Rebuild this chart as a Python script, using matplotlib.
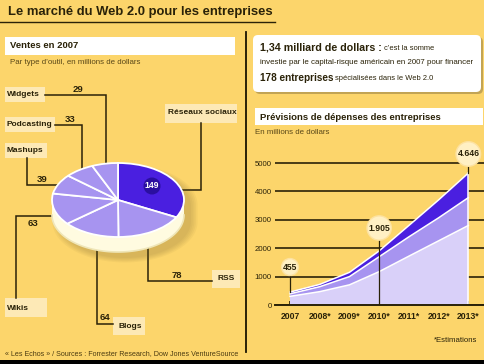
import matplotlib
matplotlib.use('Agg')
import numpy as np
import matplotlib.pyplot as plt
import matplotlib.patches as mpatches
from matplotlib import font_manager as fm

# Data
outils = ['Réseaux sociaux', 'RSS', 'Blogs', 'Wikis', 'Mashups', 'Podcasting', 'Widgets']
ventes = [149, 78, 64, 63, 39, 33, 29]

annees = ['2007', '2008*', '2009*', '2010*', '2011*', '2012*', '2013*']
bas = [305, 470, 710, 1175, 1720, 2260, 2800]
milieu = [90, 175, 290, 525, 680, 810, 980]
haut = [60, 80, 150, 205, 400, 630, 866]
points_cles = [0, 3, 6]

# Colours / fonts
FOND = '#fcd56b'
CREME = '#fde9b6'
ENCRE = '#2a2208'
BRUN = '#5a4818'
NUIT = '#2b0fa0'
VIOLET = '#4a1fe0'
LAVANDE = '#a794f0'
PALE = '#d9d0f9'

noms = {f.name for f in fm.fontManager.ttflist}
ETROIT = 'Liberation Sans Narrow' if 'Liberation Sans Narrow' in noms else 'Liberation Sans'

W, H = 485, 364
fig = plt.figure(figsize=(W / 100, H / 100), dpi=100, facecolor=FOND)

# Background axes in pixel coordinates
bg = fig.add_axes([0, 0, 1, 1])
bg.set_xlim(0, W)
bg.set_ylim(H, 0)
bg.axis('off')


def txt(x, y, s, size, bold=False, color=ENCRE, ha='left', font=ETROIT, **kw):
    bg.text(x, y, s, fontsize=size, fontweight='bold' if bold else 'normal',
            color=color, ha=ha, va='center', family=font, **kw)


def boite(x0, y0, x1, y1, color=CREME):
    bg.add_patch(mpatches.Rectangle((x0, y0), x1 - x0, y1 - y0, facecolor=color,
                                    edgecolor='none', zorder=1))


def trait(xs, ys):
    bg.plot(xs, ys, color=ENCRE, lw=1.1, zorder=2, solid_joinstyle='miter')


# Title
txt(8, 12, 'Le marché du Web 2.0 pour les entreprises', 9.35, bold=True, font='Liberation Sans')
bg.plot([0, 275], [22, 22], color=ENCRE, lw=1)

# Divider and bottom strip
bg.plot([246, 246], [32, 352], color='#1a1400', lw=1.3)
bg.add_patch(mpatches.Rectangle((0, 360), W, 4, facecolor='black', edgecolor='none'))

# Left panel
boite(5, 37, 235, 55, color='white')
txt(10, 46, 'Ventes en 2007', 6.8, bold=True)
txt(10, 63, 'Par type d\u2019outil, en millions de dollars', 5.65, color=BRUN)

# Pie labels: (box, text pos, leader path, value pos)
etiquettes = {
    'Widgets': ((5, 87, 45, 102), (7, 95), ([45, 106, 106], [95, 95, 166]), (78, 89)),
    'Podcasting': ((5, 117, 55, 132), (7, 124.5), ([55, 82, 82], [125, 125, 172]), (70, 119)),
    'Mashups': ((5, 143, 47, 158), (7, 151), ([27, 27, 62], [158, 185, 185]), (42, 179)),
    'Wikis': ((5, 298, 47, 317), (7, 308), ([16, 16, 60], [298, 216, 216]), (33, 223)),
    'Blogs': ((113, 317, 145, 335), (119, 326), ([97, 97, 113], [245, 324, 324]), (105, 317)),
    'RSS': ((212, 270, 240, 288), (218, 279), ([148, 148, 212], [245, 281, 281]), (177, 275)),
    'Réseaux sociaux': ((165, 104, 237, 123), (168, 113), ([201, 201, 178], [123, 190, 190]), None),
}
for nom, v in zip(outils, ventes):
    (x0, y0, x1, y1), (tx, ty), (lx, ly), vpos = etiquettes[nom]
    boite(x0, y0, x1, y1)
    txt(tx, ty, nom, 6.0, bold=True)
    trait(lx, ly)
    if vpos is not None:
        txt(vpos[0], vpos[1], str(v), 6.8, bold=True, ha='center')

txt(5, 354, '\u00ab Les Echos \u00bb / Sources : Forrester Research, Dow Jones VentureSource',
    5.1, color='#4a3a10')

# Right panel: key figures box
bg.add_patch(mpatches.FancyBboxPatch((255, 37), 228, 57, boxstyle='round,pad=0,rounding_size=5',
                                     facecolor='#8a7440', edgecolor='none', alpha=0.5, zorder=1))
bg.add_patch(mpatches.FancyBboxPatch((253, 35), 228, 57, boxstyle='round,pad=0,rounding_size=5',
                                     facecolor='white', edgecolor='none', zorder=1))
txt(260, 47, '1,34 milliard de dollars :', 7.7, bold=True)
txt(384, 48, 'c\u2019est la somme', 5.4)
txt(260, 63, 'investie par le capital-risque américain en 2007 pour financer', 5.65)
txt(260, 78, '178 entreprises', 7.2, bold=True)
txt(335, 79, 'spécialisées dans le Web 2.0', 5.4)

boite(255, 108, 483, 125, color='white')
txt(260, 117, 'Prévisions de dépenses des entreprises', 6.8, bold=True)
txt(255, 133, 'En millions de dollars', 5.65, color=BRUN)
txt(477, 340, '*Estimations', 5.6, ha='right')

# Pie (3D look): ellipse centre (118,200), a=66, b=37 px, depth 15 px
CX, CY, A, B, D = 118, 200, 66, 37, 15
px0, px1, py0, py1 = 40, 205, 150, 268
axp = fig.add_axes([px0 / W, 1 - py1 / H, (px1 - px0) / W, (py1 - py0) / H])
axp.pie(ventes, startangle=90, counterclock=False, radius=1,
        colors=[VIOLET] + [LAVANDE] * 6,
        wedgeprops=dict(edgecolor='white', linewidth=1.3, zorder=3))
axp.set_aspect('auto')
axp.set_xlim((px0 - CX) / A, (px1 - CX) / A)
axp.set_ylim((CY - py1) / B, (CY - py0) / B)
axp.axis('off')

d = D / B
t = np.linspace(np.pi, 2 * np.pi, 120)
tt = np.linspace(0, np.pi, 120)
sil_x = np.concatenate([np.cos(tt), np.cos(t)])
sil_y = np.concatenate([np.sin(tt), np.sin(t) - d])
for k in range(5):
    s = 1.0 + 0.025 * (4 - k)
    axp.fill(sil_x * s + 7 / A, (sil_y + d / 2) * s - d / 2 - 6 / B,
             color='#7a6530', alpha=0.06, lw=0, zorder=1)
side_x = np.concatenate([np.cos(t), np.cos(t[::-1])])
side_y = np.concatenate([np.sin(t), np.sin(t[::-1]) - d])
axp.fill(side_x, side_y, color='#fffbe0', lw=0, zorder=2)
axp.plot(np.cos(t), np.sin(t) - d, color='#efe6b8', lw=1.2, zorder=2)

# 149 badge on the dark slice
bx, by = (152 - CX) / A, (CY - 186) / B
axp.add_patch(mpatches.Ellipse((bx, by), 17 / A, 17 / B, facecolor=NUIT,
                               edgecolor='none', zorder=5))
axp.text(bx, by, str(ventes[0]), fontsize=6.2, fontweight='bold', color='white',
         ha='center', va='center', family=ETROIT, zorder=6)

# Area chart
X0, STEP, Y0, PPU = 290, 29.72, 305, 0.0284
cx0, cx1, cy0, cy1 = 275, 485, 140, 305
axc = fig.add_axes([cx0 / W, 1 - cy1 / H, (cx1 - cx0) / W, (cy1 - cy0) / H])
axc.patch.set_visible(False)
x = np.arange(len(annees))
axc.set_xlim((cx0 - X0) / STEP, (cx1 - X0) / STEP)
axc.set_ylim(0, (Y0 - cy0) / PPU)
axc.stackplot(x, bas, milieu, haut, colors=[PALE, LAVANDE, VIOLET], lw=0, zorder=2)
c1 = np.array(bas)
c2 = c1 + np.array(milieu)
c3 = c2 + np.array(haut)
for c in (c1, c2, c3):
    axc.plot(x, c, color='white', lw=1.1, zorder=3)
axc.plot([x[-1], x[-1]], [0, c3[-1]], color='white', lw=1.1, zorder=3)

axc.set_yticks(range(0, 6000, 1000))
axc.set_xticks(x)
axc.set_xticklabels(annees, fontweight='bold', family=ETROIT, fontsize=6.2, color=ENCRE)
for lab in axc.get_yticklabels():
    lab.set_family(ETROIT)
    lab.set_fontsize(5.6)
    lab.set_color(ENCRE)
axc.tick_params(axis='y', length=0, pad=2.5)
axc.tick_params(axis='x', direction='in', length=3, width=1.2, color=ENCRE, pad=5)
axc.grid(axis='y', color=ENCRE, lw=1.2)
axc.set_axisbelow(True)
for sp in ('top', 'right', 'left'):
    axc.spines[sp].set_visible(False)
axc.spines['bottom'].set_color(ENCRE)
axc.spines['bottom'].set_linewidth(1.4)
axc.spines['bottom'].set_zorder(4)

# Key values with round badges
badges = {0: 1338, 3: 2711, 6: 5317}
for i in points_cles:
    total = int(c3[i])
    label = f'{total:,}'.replace(',', '.')
    yb = badges[i]
    bas_trait = 0 if i == 3 else total
    axc.plot([i, i], [bas_trait, yb], color=ENCRE, lw=0.9, zorder=4)
    axc.text(i, yb, label, fontsize=6.2, fontweight='bold', family=ETROIT, color=ENCRE,
             ha='center', va='center', zorder=6, clip_on=False,
             bbox=dict(boxstyle='circle,pad=0.15', facecolor='#fff0c4', edgecolor='#fde2a0', lw=1))

fig.savefig('out.png', dpi=100, facecolor=FOND)
